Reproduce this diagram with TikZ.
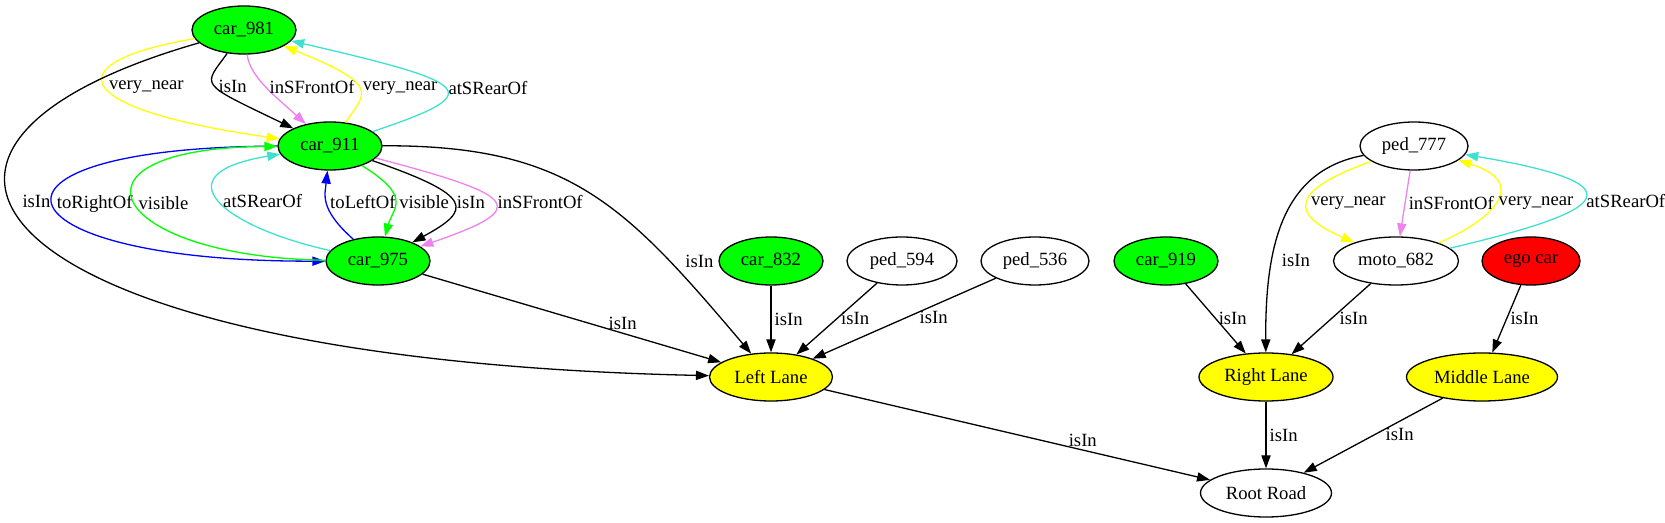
\documentclass[tikz,border=0pt]{standalone}
\usepackage{fontspec}
\setmainfont{Liberation Serif}
\usepackage{tikz}
\usetikzlibrary{positioning,shapes,arrows.meta}
\definecolor{gvgreen}{RGB}{0,255,0}
\definecolor{gvyellow}{RGB}{255,255,0}
\definecolor{gvred}{RGB}{255,0,0}
\definecolor{gvturq}{RGB}{64,224,208}
\definecolor{gvviolet}{RGB}{238,130,238}
\definecolor{gvblue}{RGB}{0,0,255}
\tikzstyle{obj}=[draw,ellipse,minimum height=24pt,inner sep=0pt]
\tikzstyle{lbl}=[anchor=west,inner sep=1.5pt,text=black]
\tikzset{ctrl/.style 2 args={to path={.. controls #1 and #2 .. (\tikztotarget) \tikztonodes}}}
\newcommand{\newObj}[4]{\node[obj,#3](#1) at #4 {#2};}
\newcommand{\newRel}[5]{\path[->] (#1) edge [#4] node[lbl,#5] {#3} (#2);}

\begin{document}
\begin{tikzpicture}[x=0.5pt,y=0.5pt,
      >={Triangle[length=6.5pt,width=4.6pt]},
      line width=0.65pt,
      font=\fontsize{9.33}{11}\selectfont
      ]
      \useasboundingbox (0,0) rectangle (1665,-523);
      % objects
      \newObj{car981}{car\_981}{fill=gvgreen,minimum width=52pt}{(244,-30)}
      \newObj{car911}{car\_911}{fill=gvgreen,minimum width=52pt}{(330,-146)}
      \newObj{car975}{car\_975}{fill=gvgreen,minimum width=52pt}{(378,-261)}
      \newObj{car832}{car\_832}{fill=gvgreen,minimum width=52pt}{(771,-261)}
      \newObj{ped594}{ped\_594}{minimum width=55pt}{(902,-261)}
      \newObj{ped536}{ped\_536}{minimum width=54pt}{(1035,-261)}
      \newObj{car919}{car\_919}{fill=gvgreen,minimum width=52pt}{(1166,-261)}
      \newObj{ped777}{ped\_777}{minimum width=54pt}{(1414,-146)}
      \newObj{moto682}{moto\_682}{minimum width=62.5pt}{(1396,-261)}
      \newObj{ego}{ego car}{fill=gvred,minimum width=49pt}{(1531,-261)}
      % lanes
      \newObj{leftlane}{Left Lane}{fill=gvyellow,minimum width=61.5pt}{(771,-377)}
      \newObj{rightlane}{Right Lane}{fill=gvyellow,minimum width=67pt}{(1266,-377)}
      \newObj{midlane}{Middle Lane}{fill=gvyellow,minimum width=75.5pt}{(1482,-377)}
      \newObj{root}{Root Road}{minimum width=65.5pt}{(1266,-493)}
      % car_981 <-> car_911
      \newRel{car981}{car911}{very\_near}{gvyellow,ctrl={(53,-63)}{(70,-109)}}{pos=.5}
      \newRel{car981}{car911}{isIn}{ctrl={(203,-87)}{(197,-82)}}{pos=.5}
      \newRel{car981}{car911}{inSFrontOf}{gvviolet,ctrl={(250,-77)}{(275,-96)}}{pos=.5}
      \newRel{car911}{car981}{very\_near}{gvyellow,ctrl={(365,-93)}{(383,-86)}}{pos=.5}
      \newRel{car911}{car981}{atSRearOf}{gvturq,ctrl={(487,-93)}{(478,-84)}}{pos=.5}
      \newRel{car981}{leftlane}{isIn}{ctrl={(-175,-150)}{(-10,-360)}}{pos=.4,xshift=4.5pt}
      % car_911 <-> car_975
      \newRel{car911}{car975}{toRightOf}{gvblue,ctrl={(-48,-147)}{(-11,-262)}}{pos=.5}
      \newRel{car975}{car911}{visible}{gvgreen,ctrl={(107,-257)}{(52,-148)}}{pos=.5}
      \newRel{car975}{car911}{atSRearOf}{gvturq,ctrl={(223,-227)}{(159,-174)}}{pos=.5}
      \newRel{car975}{car911}{toLeftOf}{gvblue,ctrl={(319,-209)}{(325,-194)}}{pos=.5}
      \newRel{car911}{car975}{visible}{gvgreen,ctrl={(413,-197)}{(393,-208)}}{pos=.5}
      \newRel{car911}{car975}{isIn}{ctrl={(475,-196)}{(472,-210)}}{pos=.5}
      \newRel{car911}{car975}{inSFrontOf}{gvviolet,ctrl={(520,-196)}{(532,-208)}}{pos=.5}
      \newRel{car911}{leftlane}{isIn}{ctrl={(570,-145)}{(625,-205)}}{pos=.76,xshift=6pt}
      % into Left Lane
      \newRel{car975}{leftlane}{isIn}{}{pos=.67,anchor=south}
      \newRel{car832}{leftlane}{isIn}{}{pos=.5}
      \newRel{ped594}{leftlane}{isIn}{}{pos=.49}
      \newRel{ped536}{leftlane}{isIn}{}{pos=.49,xshift=5pt}
      % right side
      \newRel{car919}{rightlane}{isIn}{}{pos=.49}
      \newRel{ped777}{rightlane}{isIn}{ctrl={(1285,-170)}{(1265,-240)}}{pos=.69,xshift=3pt}
      \newRel{ped777}{moto682}{very\_near}{gvyellow,ctrl={(1286,-192)}{(1292,-215)}}{pos=.5}
      \newRel{ped777}{moto682}{inSFrontOf}{gvviolet}{pos=.49}
      \newRel{moto682}{ped777}{very\_near}{gvyellow,ctrl={(1488,-222)}{(1533,-184)}}{pos=.5}
      \newRel{moto682}{ped777}{atSRearOf}{gvturq,ctrl={(1590,-215)}{(1659,-187)}}{pos=.5}
      \newRel{moto682}{rightlane}{isIn}{}{pos=.49,xshift=2pt}
      \newRel{ego}{midlane}{isIn}{}{pos=.49}
      % lanes to road
      \newRel{leftlane}{root}{isIn}{}{pos=.67,anchor=south}
      \newRel{rightlane}{root}{isIn}{}{pos=.5}
      \newRel{midlane}{root}{isIn}{}{pos=.48,xshift=3pt}
\end{tikzpicture}
\end{document}
